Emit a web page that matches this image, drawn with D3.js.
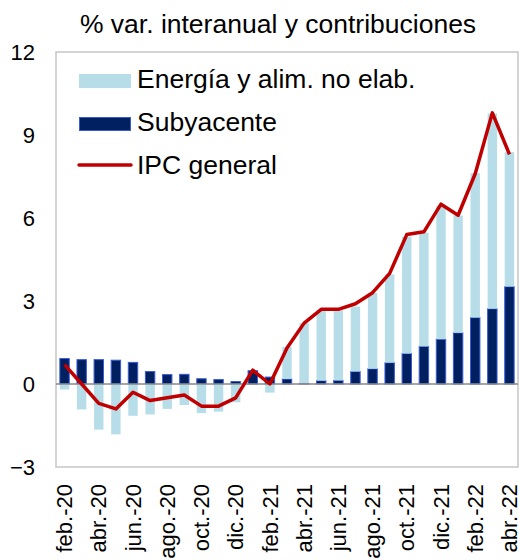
<!DOCTYPE html>
<html lang="es">
<head>
<meta charset="UTF-8">
<title>IPC y contribuciones</title>
<script src="https://d3js.org/d3.v7.min.js"></script>
<style>
    body { margin: 0; background: #fff; }
    text { font-family: "Liberation Sans", Arial, sans-serif; fill: #000; }
</style>
</head>
<body>
<div id="chart"></div>
<script>
// Meses (feb-20 a abr-22)
const months = ["feb.-20","mar.-20","abr.-20","may.-20","jun.-20","jul.-20","ago.-20","sep.-20","oct.-20","nov.-20","dic.-20",
                "ene.-21","feb.-21","mar.-21","abr.-21","may.-21","jun.-21","jul.-21","ago.-21","sep.-21","oct.-21","nov.-21","dic.-21",
                "ene.-22","feb.-22","mar.-22","abr.-22"];
// Etiquetas del eje (cada dos meses)
const tickLabels = ["feb.-20","abr.-20","jun.-20","ago.-20","oct.-20","dic.-20","feb.-21","abr.-21","jun.-21","ago.-21","oct.-21","dic.-21","feb.-22","abr.-22"];
const yTicks = [-3, 0, 3, 6, 9, 12];

// Contribuciones (pp)
const subyacente = [0.92,0.88,0.88,0.86,0.78,0.45,0.34,0.35,0.19,0.16,0.09,0.48,0.25,0.18,0.02,0.12,0.13,0.45,0.55,0.77,1.10,1.36,1.62,1.85,2.40,2.72,3.52];
const energia    = [-0.20,-0.92,-1.65,-1.82,-1.15,-1.10,-0.90,-0.76,-1.05,-1.00,-0.66,0.00,-0.31,1.16,2.18,2.54,2.53,2.35,2.74,3.19,4.23,4.11,4.83,4.24,5.22,7.06,4.86];
// IPC general (% var. interanual)
const ipc        = [0.7,0.0,-0.7,-0.9,-0.3,-0.6,-0.5,-0.4,-0.8,-0.8,-0.5,0.5,0.0,1.3,2.2,2.7,2.7,2.9,3.3,4.0,5.4,5.5,6.5,6.1,7.6,9.8,8.3];

const width = 520, height = 560;
const plot = { left: 56, right: 518, top: 52, bottom: 467 };

const svg = d3.select('#chart').append('svg')
    .attr('width', width)
    .attr('height', height);

const x = d3.scaleBand()
    .domain(months)
    .range([plot.left, plot.right])
    .paddingInner(0.45)
    .paddingOuter(0.225);

const y = d3.scaleLinear()
    .domain([-3, 12])
    .range([plot.bottom, plot.top]);

// Build stacked segments: positives stack from 0 upward, negatives downward
const rows = months.map((m, i) => {
    let pos = 0, neg = 0;
    const segs = [];
    [['sub', subyacente[i]], ['ene', energia[i]]].forEach(([k, v]) => {
        if (v >= 0) { segs.push({ k, y0: pos, y1: pos + v }); pos += v; }
        else { segs.push({ k, y0: neg + v, y1: neg }); neg += v; }
    });
    return { m, segs };
});

// Plot frame
svg.append('rect')
    .attr('x', plot.left).attr('y', plot.top)
    .attr('width', plot.right - plot.left)
    .attr('height', plot.bottom - plot.top)
    .attr('fill', 'none')
    .attr('stroke', '#c6c6c6')
    .attr('stroke-width', 1.5);

// Bars
const colors = { ene: '#b7dee8', sub: '#002060' };
svg.append('g').selectAll('g')
    .data(rows)
    .join('g')
    .selectAll('rect')
    .data(d => d.segs.map(s => Object.assign({ m: d.m }, s)))
    .join('rect')
    .attr('x', d => x(d.m))
    .attr('width', x.bandwidth())
    .attr('y', d => y(d.y1))
    .attr('height', d => y(d.y0) - y(d.y1))
    .attr('fill', d => colors[d.k])
    .attr('stroke', d => d.k === 'sub' ? '#3a5bd8' : 'none')
    .attr('stroke-width', 1);

// Zero line
svg.append('line')
    .attr('x1', plot.left).attr('x2', plot.right)
    .attr('y1', y(0)).attr('y2', y(0))
    .attr('stroke', '#888')
    .attr('stroke-width', 1.5);

// IPC line
svg.append('path')
    .datum(ipc)
    .attr('fill', 'none')
    .attr('stroke', '#c00000')
    .attr('stroke-width', 3.5)
    .attr('stroke-linejoin', 'round')
    .attr('d', d3.line()
        .x((d, i) => x(months[i]) + x.bandwidth() / 2)
        .y(d => y(d)));

// Y axis labels
const yAxis = svg.append('g')
    .attr('transform', `translate(${plot.left - 21},0)`)
    .call(d3.axisLeft(y).tickValues(yTicks).tickSize(0).tickPadding(0).tickFormat(d3.format('d')));
yAxis.select('.domain').remove();
yAxis.selectAll('text')
    .style('font-family', '"Liberation Sans", Arial, sans-serif')
    .style('font-size', '22px')
    .attr('fill', '#000');

// X axis labels (rotated)
svg.append('g').selectAll('text')
    .data(tickLabels)
    .join('text')
    .attr('transform', d => `translate(${x(d) + x.bandwidth() / 2},484) rotate(-90)`)
    .attr('text-anchor', 'end')
    .attr('dy', '0.35em')
    .style('font-size', '22px')
    .text(d => d);

// Title
svg.append('text')
    .attr('x', 278)
    .attr('y', 33)
    .attr('text-anchor', 'middle')
    .style('font-size', '26.5px')
    .text('% var. interanual y contribuciones');

// Legend
const legend = svg.append('g');
legend.append('rect')
    .attr('x', 79).attr('y', 74).attr('width', 52).attr('height', 14)
    .attr('fill', colors.ene);
legend.append('rect')
    .attr('x', 79.5).attr('y', 117.5).attr('width', 51).attr('height', 13)
    .attr('fill', colors.sub).attr('stroke', '#3a5bd8').attr('stroke-width', 1);
legend.append('line')
    .attr('x1', 79).attr('x2', 131).attr('y1', 165).attr('y2', 165)
    .attr('stroke', '#c00000').attr('stroke-width', 3.5).attr('stroke-linecap', 'round');
const legendItems = ['Energía y alim. no elab.', 'Subyacente', 'IPC general'];
legend.selectAll('text.lg')
    .data(legendItems)
    .join('text')
    .attr('class', 'lg')
    .attr('x', 137)
    .attr('y', (d, i) => 88 + i * 43)
    .style('font-size', '26.5px')
    .text(d => d);
</script>
</body>
</html>
